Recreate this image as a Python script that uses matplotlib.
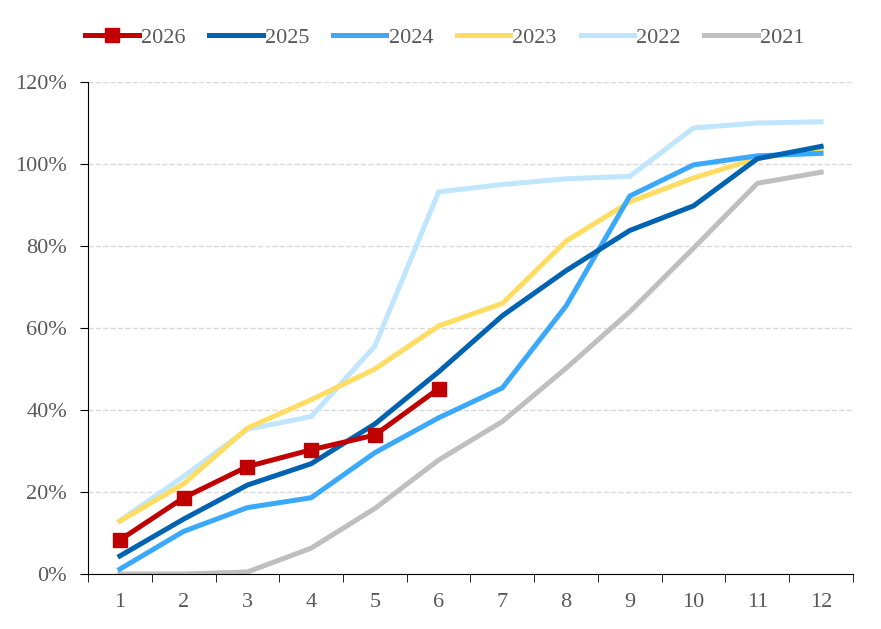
import numpy as np
import matplotlib.pyplot as plt
from matplotlib.ticker import FuncFormatter, MultipleLocator

plt.rcParams['font.family'] = ['Liberation Serif', 'DejaVu Serif']

months = np.arange(1, 13)

y2026 = [8.3, 18.6, 26.2, 30.3, 33.9, 45.2]
y2025 = [4.4, 13.4, 21.7, 26.9, 36.6, 49.3, 63.0, 74.0, 83.8, 89.8, 101.3, 104.3]
y2024 = [1.2, 10.4, 16.2, 18.6, 29.6, 38.1, 45.4, 65.4, 92.2, 99.8, 102.0, 102.6]
y2023 = [12.9, 22.0, 35.6, 42.5, 50.0, 60.5, 66.0, 81.2, 90.8, 96.6, 101.4, 103.6]
y2022 = [13.0, 23.8, 35.3, 38.4, 55.6, 93.2, 95.0, 96.4, 97.0, 108.8, 110.0, 110.3]
y2021 = [0.0, 0.0, 0.5, 6.3, 16.0, 27.8, 37.2, 50.2, 64.0, 79.5, 95.3, 98.0]

fig = plt.figure(figsize=(8.81, 6.29), dpi=100)
ax = fig.add_axes([0.0999, 0.0874, 0.8683, 0.7822])

lw = 3.6
ax.plot(months[:6], np.array(y2026) / 100, color='#c00000', lw=lw, marker='s', ms=10,
        label='2026', zorder=7)
ax.plot(months, np.array(y2025) / 100, color='#0063b1', lw=lw, label='2025', zorder=6)
ax.plot(months, np.array(y2024) / 100, color='#3ba9fb', lw=lw, label='2024', zorder=5)
ax.plot(months, np.array(y2023) / 100, color='#ffdc62', lw=lw, label='2023', zorder=4)
ax.plot(months, np.array(y2022) / 100, color='#bfe6fd', lw=lw, label='2022', zorder=3)
ax.plot(months, np.array(y2021) / 100, color='#bfbfbf', lw=lw, label='2021', zorder=2)

ax.set_xlim(0.5, 12.5)
ax.set_ylim(0, 1.2)
ax.yaxis.set_major_locator(MultipleLocator(0.2))
ax.yaxis.set_major_formatter(FuncFormatter(lambda v, p: f'{v*100:.0f}%'))
ax.set_xticks(months)
ax.set_xticks(np.arange(0.5, 13, 1), minor=True)
ax.tick_params(axis='x', which='major', length=0, pad=14, labelsize=16, colors='#595959')
ax.tick_params(axis='x', which='minor', length=6, direction='out', color='black')
ax.tick_params(axis='y', length=6, direction='out', labelsize=16, labelcolor='#595959', pad=9)
ax.grid(axis='y', color='#d9d9d9', linestyle='--', linewidth=1)
ax.set_axisbelow(True)
for s in ['top', 'right']:
    ax.spines[s].set_visible(False)

fig.legend(loc='upper center', bbox_to_anchor=(0.505, 0.988), ncol=6, frameon=False,
           fontsize=16, handlelength=2.4, handletextpad=0.1, columnspacing=1.07,
           labelcolor='#595959')

fig.savefig('out.png', dpi=100)
